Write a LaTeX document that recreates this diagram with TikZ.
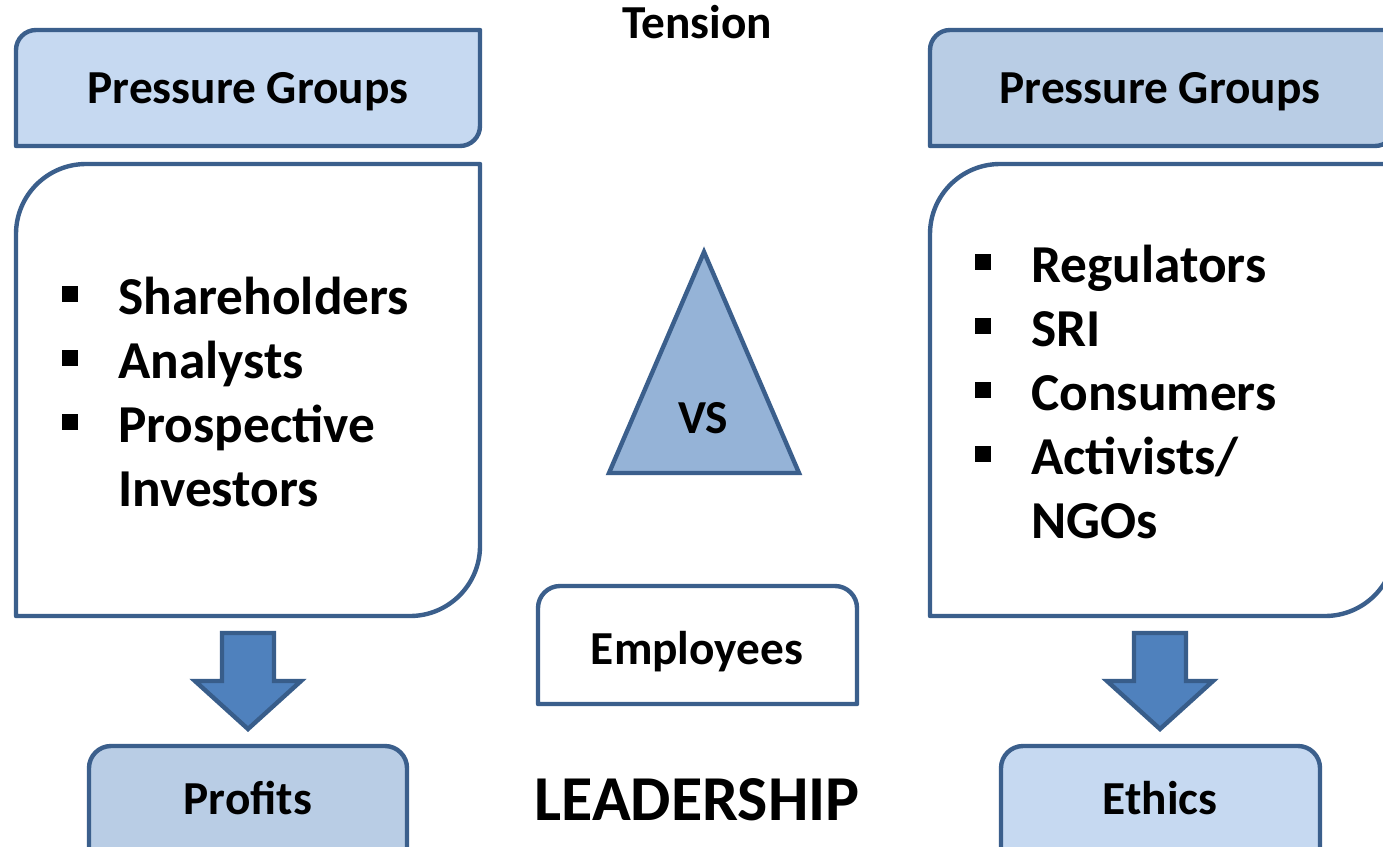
\documentclass[tikz,border=0pt]{standalone}
\usepackage{fontspec}
\setmainfont{Carlito}
\definecolor{edge}{HTML}{3B5F8C}
\definecolor{fillA}{HTML}{C6D9F1}
\definecolor{fillB}{HTML}{B9CDE5}
\definecolor{triFill}{HTML}{95B3D7}
\definecolor{arrFill}{HTML}{4F81BD}
\definecolor{arrEdge}{HTML}{385D8A}
% L T R B r style : rounded top-left and bottom-right corners
\newcommand\dgbox[6]{%
 \draw[#6] ({#1+#5},#2) -- (#3,#2) -- (#3,{#4-#5})
   .. controls (#3,{#4-0.4477*#5}) and ({#3-0.4477*#5},#4) .. ({#3-#5},#4)
   -- (#1,#4) -- (#1,{#2+#5})
   .. controls (#1,{#2+0.4477*#5}) and ({#1+0.4477*#5},#2) .. ({#1+#5},#2) -- cycle;}
% L T R B r style : rounded top corners
\newcommand\tpbox[6]{%
 \draw[#6] (#1,#4) -- (#1,{#2+#5})
   .. controls (#1,{#2+0.4477*#5}) and ({#1+0.4477*#5},#2) .. ({#1+#5},#2)
   -- ({#3-#5},#2)
   .. controls ({#3-0.4477*#5},#2) and (#3,{#2+0.4477*#5}) .. (#3,{#2+#5})
   -- (#3,#4) -- cycle;}
\begin{document}
\begin{tikzpicture}[x=0.75pt,y=-0.75pt,
  box/.style={draw=edge,line width=3.3pt,line join=round},
  blockarrow/.style={draw=arrEdge,fill=arrFill,line width=3.3pt,line join=miter},
  txt/.style={font=\bfseries\fontsize{35.5}{42}\selectfont,anchor=base,inner sep=0pt},
  listtxt/.style={font=\bfseries\fontsize{40}{48}\selectfont,anchor=base west,inner sep=0pt},
  bul/.style={fill=black,minimum size=11.5pt,inner sep=0pt,outer sep=0pt,draw=none}]
\clip (0,0) rectangle (1383,846);
\fill[white] (0,0) rectangle (1383,846);

% left column
\dgbox{16}{30}{480}{146}{20}{box,fill=fillA}
\dgbox{16}{164}{480}{616}{70}{box,fill=white}
\draw[blockarrow] (222,633) -- (274,633) -- (274,681) -- (301,681) -- (248,729) -- (195,681) -- (222,681) -- cycle;
\tpbox{89}{746}{407}{880}{22}{box,fill=fillB}

% right column
\dgbox{930}{30}{1395}{146}{20}{box,fill=fillB}
\dgbox{930}{164}{1395}{616}{70}{box,fill=white}
\draw[blockarrow] (1134,633) -- (1186,633) -- (1186,681) -- (1213,681) -- (1160,729) -- (1107,681) -- (1134,681) -- cycle;
\tpbox{1001}{746}{1320}{880}{22}{box,fill=fillA}

% centre
\draw[box,fill=triFill,line join=miter] (704,252) -- (799,473) -- (609,473) -- cycle;
\tpbox{538}{586}{857}{704}{22}{box,fill=white}

% texts
\node[txt] (tension) at (697,38) {Tension};
\node[txt] (pgl) at (248,103) {Pressure Groups};
\node[txt] (pgr) at (1160,103) {Pressure Groups};
\node[txt] (vs) at (703,433) {VS};
\node[txt] (emp) at (697,664) {Employees};
\node[txt,font=\bfseries\fontsize{48}{56}\selectfont] (lead) at (697,820) {LEADERSHIP};
\node[txt] (profits) at (248,814) {Profits};
\node[txt] (ethics) at (1160,814) {Ethics};

% left list
\node[bul] (bl1) at (70,294) {};
\node[bul] (bl2) at (70,358) {};
\node[bul] (bl3) at (70,422) {};
\node[listtxt] (l1) at (118,314) {Shareholders};
\node[listtxt] (l2) at (118,378) {Analysts};
\node[listtxt] (l3) at (118,442) {Prospective};
\node[listtxt] (l4) at (118,506) {Investors};

% right list
\node[bul] (br1) at (983,262) {};
\node[bul] (br2) at (983,326) {};
\node[bul] (br3) at (983,390) {};
\node[bul] (br4) at (983,454) {};
\node[listtxt] (r1) at (1031,282) {Regulators};
\node[listtxt] (r2) at (1031,346) {SRI};
\node[listtxt] (r3) at (1031,410) {Consumers};
\node[listtxt] (r4) at (1031,474) {Activists/};
\node[listtxt] (r5) at (1031,538) {NGOs};
\end{tikzpicture}
\end{document}
